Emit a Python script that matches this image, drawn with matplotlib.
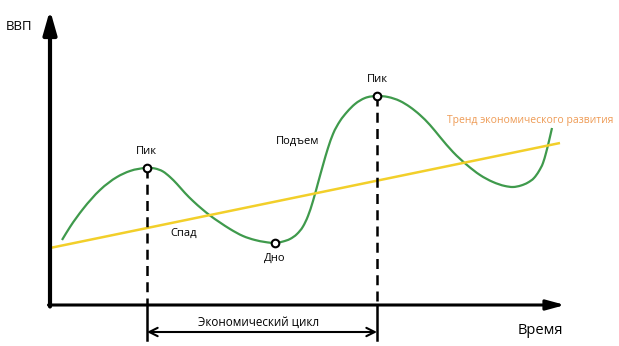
import numpy as np
import matplotlib.pyplot as plt
from matplotlib.path import Path
from matplotlib.patches import PathPatch

# GDP curve (time, gdp), origin at the axes corner
t_curve = [12, 20, 33, 50, 67, 80, 97,
           105, 113, 120, 127, 135, 143, 152, 160, 170, 180, 193, 205, 215, 225,
           233, 240, 247, 253, 258, 263, 268, 273, 278, 283, 290, 297, 305, 315, 327,
           338, 350, 360, 370, 380, 390, 403, 417, 430, 443, 455, 463, 471, 478,
           484, 489, 493, 496, 499, 502]
gdp_curve = [65, 78, 96, 115, 128, 134, 137,
             136.5, 133.5, 128, 121, 112, 104, 96, 89.5, 82.5, 76, 69, 65, 63, 62,
             63.5, 66, 71, 78.5, 89, 104, 122, 140, 157, 171, 184, 193, 201, 207, 209,
             208, 204, 198, 190, 180, 168, 153, 140, 130, 123, 119, 118, 119.5, 122.5,
             127, 134, 142, 152, 164, 177]

# trend line end points
t_trend = [0, 510]
gdp_trend = [57, 162]

# labelled points
peaks_t = [97, 327]
peaks_gdp = [137, 209]
trough_t = 225
trough_gdp = 62


def smooth_path(xs, ys):
    # cubic Hermite through the read points, drawn as Bezier segments
    x = np.asarray(xs, float)
    y = np.asarray(ys, float)
    m = np.gradient(y, x)
    verts = [(x[0], y[0])]
    codes = [Path.MOVETO]
    for i in range(len(x) - 1):
        dx = x[i + 1] - x[i]
        verts += [(x[i] + dx / 3, y[i] + m[i] * dx / 3),
                  (x[i + 1] - dx / 3, y[i + 1] - m[i + 1] * dx / 3),
                  (x[i + 1], y[i + 1])]
        codes += [Path.CURVE4] * 3
    return Path(verts, codes)


fig = plt.figure(figsize=(6.19, 3.46), dpi=100)
ax = fig.add_axes([0, 0, 1, 1])
ax.set_xlim(-50, 569)
ax.set_ylim(-41, 305)
ax.axis("off")

plt.rcParams["font.family"] = ["Open Sans", "DejaVu Sans"]

green = "#3f9a4c"
yellow = "#f2cf2a"

# axes arrows
ax.annotate("", xy=(0, 295), xytext=(0, -1.5),
            arrowprops=dict(arrowstyle="-|>,head_length=1.4,head_width=0.4",
                            lw=3, color="black", shrinkA=0, shrinkB=0))
ax.annotate("", xy=(515, 0), xytext=(-1.5, 0),
            arrowprops=dict(arrowstyle="-|>,head_length=1.1,head_width=0.3",
                            lw=2.2, color="black", shrinkA=0, shrinkB=0))

# trend and cycle curve
ax.plot(t_trend, gdp_trend, color=yellow, lw=1.8, solid_capstyle="butt")
ax.add_patch(PathPatch(smooth_path(t_curve, gdp_curve), facecolor="none",
                       edgecolor=green, lw=1.6))

# dashed drop lines from the peaks
for tp, gp in zip(peaks_t, peaks_gdp):
    ax.plot([tp, tp], [gp, 0], color="black", lw=1.8, ls=(0, (4, 2.5)))
    ax.plot([tp, tp], [0, -35], color="black", lw=1.8)

ax.scatter(peaks_t + [trough_t], peaks_gdp + [trough_gdp], s=30,
           facecolor="white", edgecolor="black", linewidths=1.5, zorder=5)

# cycle arrow
ax.annotate("", xy=(peaks_t[1], -27), xytext=(peaks_t[0], -27),
            arrowprops=dict(arrowstyle="<->,head_length=0.6,head_width=0.3",
                            lw=1.5, color="black", shrinkA=0, shrinkB=0))

ax.text(-31, 279, "ВВП", fontsize=9.5, ha="center", va="center")
ax.text(490, -26, "Время", fontsize=10.5, ha="center", va="center")
ax.text(209, -17, "Экономический цикл", fontsize=8.4, ha="center", va="center")
ax.text(peaks_t[0] - 1, 153, "Пик", fontsize=8, ha="center", va="center")
ax.text(peaks_t[1], 225, "Пик", fontsize=8, ha="center", va="center")
ax.text(trough_t, 47, "Дно", fontsize=8, ha="center", va="center")
ax.text(134, 72, "Спад", fontsize=8, ha="center", va="center")
ax.text(248, 164, "Подъем", fontsize=8, ha="center", va="center")
ax.text(480, 184, "Тренд экономического развития", fontsize=7.5,
        ha="center", va="center", color="#ee9b55")

fig.savefig("out.png", dpi=100)
